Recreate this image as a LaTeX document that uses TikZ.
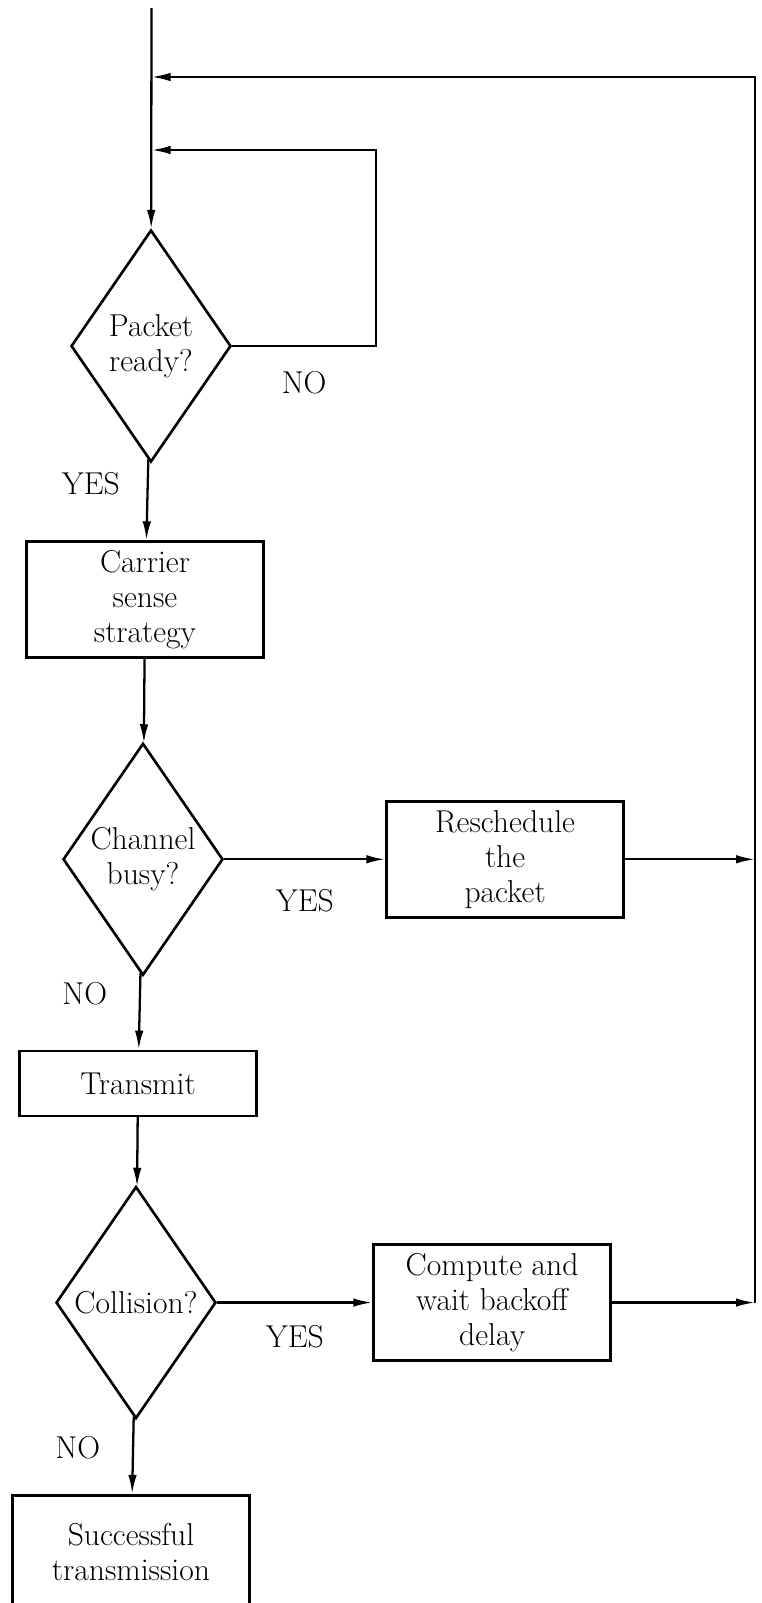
\documentclass[tikz,border=0pt]{standalone}
\usetikzlibrary{positioning, arrows.meta, shapes.geometric}

\begin{document}
\begin{tikzpicture}[
    font=\fontsize{18}{20}\selectfont,
    >={Latex[length=3.8mm, width=1.7mm]},
    decision/.style={diamond, draw, line width=1.5pt, aspect=0.69, inner sep=0pt, minimum width=3.2cm, minimum height=4.64cm, align=center},
    process/.style={rectangle, draw, line width=1.5pt, minimum width=4.74cm, minimum height=2.32cm, align=center},
    arrow/.style={->, line width=1.3pt},
    answer/.style={inner sep=1pt}
]
\useasboundingbox (0,0) rectangle (15.24,-32.06);

% Nodes
\node[decision] (ready) at (3.02,-6.92) {Packet\\ready?};
\node[process, below=1.54cm of ready, xshift=-0.12cm] (carrier) {Carrier\\sense\\strategy};
\node[decision, below=1.66cm of carrier, xshift=-0.04cm] (busy) {Channel\\busy?};
\node[process, right=3.22cm of busy] (resched) {Reschedule\\the\\packet};
\node[process, minimum height=1.3cm, below=1.46cm of busy, xshift=-0.1cm] (transmit) {Transmit};
\node[decision, below=1.36cm of transmit, xshift=-0.04cm] (collision) {Collision?};
\node[process, right=3.1cm of collision] (backoff) {Compute and\\wait backoff\\delay};
\node[process, minimum height=2.26cm, below=1.48cm of collision, xshift=-0.1cm] (success) {Successful\\transmission};

\coordinate (top) at (3.03,-0.16);
\coordinate (inner) at (7.52,-3.0);
\coordinate (outer) at (15.1,-1.54);

% Connections
\draw[arrow] (top) -- (ready);
\draw[arrow] (ready.east) -| node[answer, pos=0.25, below=4.5mm] {NO} (inner) -- (inner -| top);
\draw[arrow] (ready) -- node[answer, pos=0.3, left=5mm] {YES} (carrier);
\draw[arrow] (carrier) -- (busy);

\draw[arrow] (busy) -- node[answer, below=5.5mm] {YES} (resched);
\draw[arrow] (busy) -- node[answer, pos=0.27, left=6mm] {NO} (transmit);
\draw[arrow] (transmit) -- (collision);

\draw[arrow] (collision) -- node[answer, below=4mm] {YES} (backoff);
\draw[arrow] (collision) -- node[answer, pos=0.4, left=6mm] {NO} (success);

\draw[arrow] (resched) -- (resched -| outer);
\draw[arrow] (backoff) -- (backoff -| outer);
\draw[arrow] (backoff -| outer) -- (outer) -- (outer -| top);

\end{tikzpicture}
\end{document}
